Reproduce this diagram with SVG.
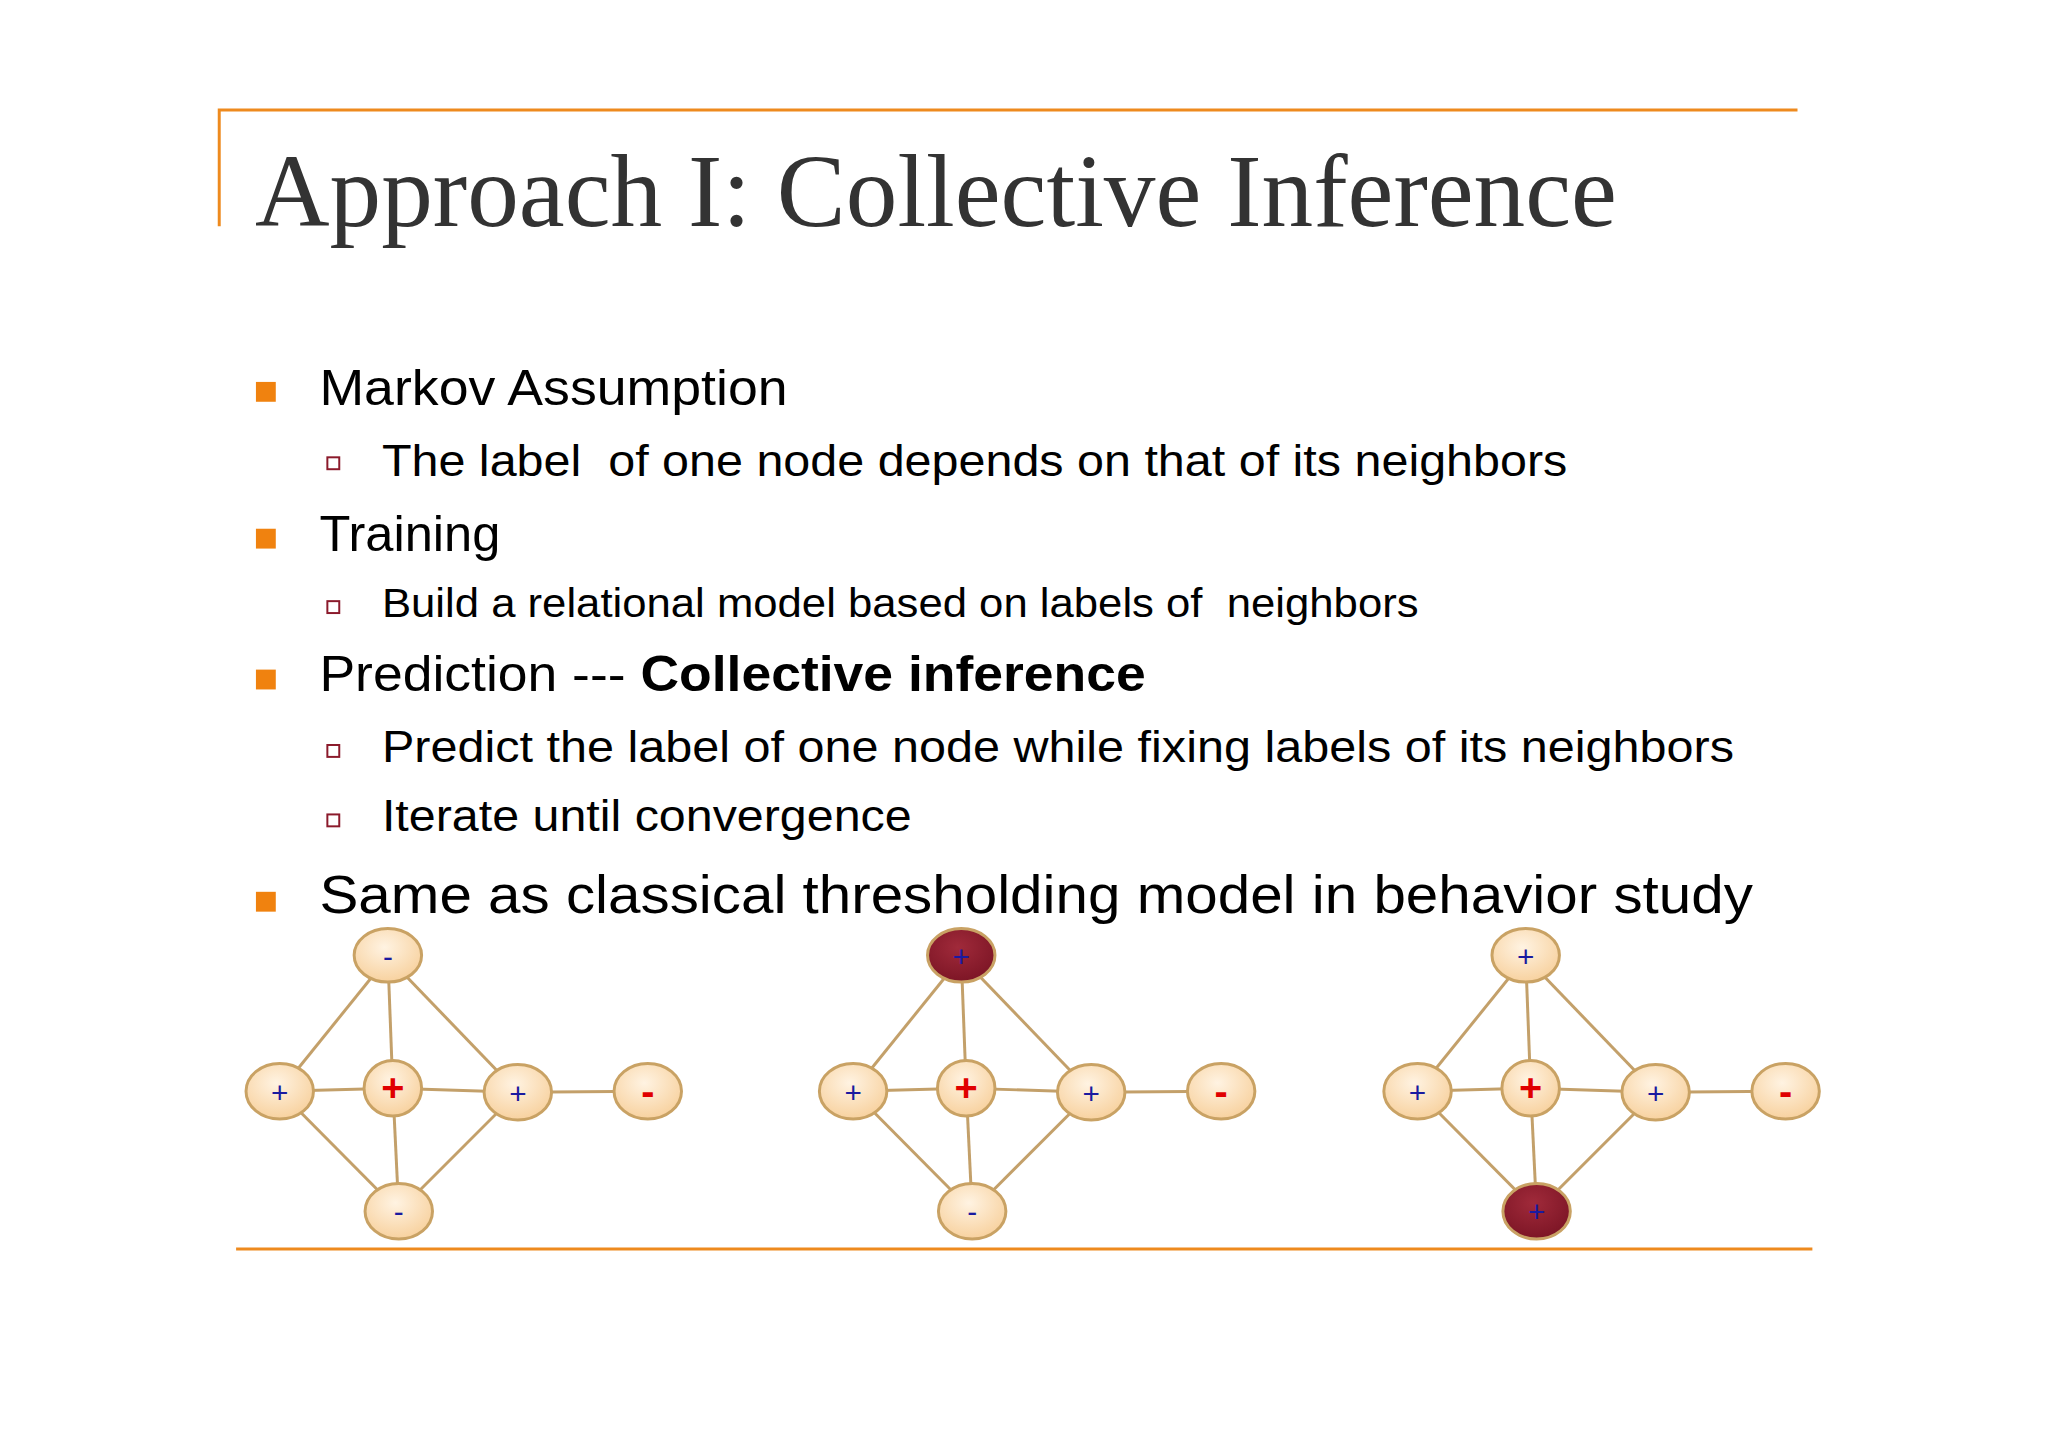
<svg xmlns="http://www.w3.org/2000/svg" width="2048" height="1448" viewBox="0 0 2048 1448">
<defs>
<radialGradient id="g" cx="0.45" cy="0.35" r="0.7"><stop offset="0" stop-color="#fff3e2"/><stop offset="1" stop-color="#f7cf9a"/></radialGradient>
<radialGradient id="gr" cx="0.45" cy="0.35" r="0.7"><stop offset="0" stop-color="#a02a3a"/><stop offset="1" stop-color="#7a1424"/></radialGradient>
<g id="graph">
<g class="edges" stroke="#c3a06a" stroke-width="3" fill="none">
<line x1="391" y1="965" x2="282" y2="1100"/><line x1="391" y1="965" x2="396" y2="1097"/><line x1="391" y1="965" x2="522" y2="1101"/>
<line x1="282" y1="1100" x2="396" y2="1097"/><line x1="396" y1="1097" x2="522" y2="1101"/><line x1="522" y1="1101" x2="653" y2="1100"/>
<line x1="282" y1="1100" x2="402" y2="1221"/><line x1="396" y1="1097" x2="402" y2="1221"/><line x1="522" y1="1101" x2="402" y2="1221"/>
</g>
</g>
</defs>
<style>
.t{font-family:"Liberation Sans",Arial,sans-serif;fill:#000}
.n{fill:url(#g);stroke:#c9a264;stroke-width:3}
.nr{fill:url(#gr);stroke:#c9a264;stroke-width:3}
.b{font-family:"Liberation Sans",Arial,sans-serif;fill:#1a1aa0;font-size:30px;text-anchor:middle}
.r{font-family:"Liberation Sans",Arial,sans-serif;fill:#e00000;font-size:40px;font-weight:bold;text-anchor:middle}
.sq{fill:#f0820f}
.hs{fill:none;stroke:#8b1a2b;stroke-width:2}
</style>
<rect width="2048" height="1448" fill="#fff"/>
<g transform="scale(0.992)">
<g id="frame" stroke="#ee8a1e" stroke-width="3" fill="none">
<polyline points="221,228 221,111 1812,111"/>
<line x1="238" y1="1259" x2="1827" y2="1259"/>
</g>
<text x="257" y="228" font-family="'Liberation Serif','Times New Roman',serif" font-size="104" fill="#333" textLength="1373" lengthAdjust="spacingAndGlyphs">Approach I: Collective Inference</text>
<g id="bullets">
<rect class="sq" x="258" y="385" width="20" height="20"/>
<rect class="sq" x="258" y="533" width="20" height="20"/>
<rect class="sq" x="258" y="675" width="20" height="20"/>
<rect class="sq" x="258" y="899" width="20" height="20"/>
<rect class="hs" x="330" y="461" width="12" height="12"/>
<rect class="hs" x="330" y="606" width="12" height="12"/>
<rect class="hs" x="330" y="751" width="12" height="12"/>
<rect class="hs" x="330" y="821" width="12" height="12"/>
<text class="t" x="322" y="408" font-size="51" textLength="472" lengthAdjust="spacingAndGlyphs">Markov Assumption</text>
<text class="t" x="385" y="480" font-size="45" textLength="1195" lengthAdjust="spacingAndGlyphs" xml:space="preserve">The label  of one node depends on that of its neighbors</text>
<text class="t" x="322" y="555" font-size="51">Training</text>
<text class="t" x="385" y="622" font-size="41" textLength="1045" lengthAdjust="spacingAndGlyphs" xml:space="preserve">Build a relational model based on labels of  neighbors</text>
<text class="t" x="322" y="697" font-size="51" textLength="833" lengthAdjust="spacingAndGlyphs" xml:space="preserve">Prediction --- <tspan font-weight="bold">Collective inference</tspan></text>
<text class="t" x="385" y="768" font-size="45" textLength="1363" lengthAdjust="spacingAndGlyphs">Predict the label of one node while fixing labels of its neighbors</text>
<text class="t" x="385" y="838" font-size="45" textLength="534" lengthAdjust="spacingAndGlyphs">Iterate until convergence</text>
<text class="t" x="322" y="920" font-size="55" textLength="1445" lengthAdjust="spacingAndGlyphs">Same as classical thresholding model in behavior study</text>
</g>
<g id="connectors">
<use href="#graph"/>
<use href="#graph" x="578"/>
<use href="#graph" x="1147"/>
</g>
<g id="graph1">
<ellipse class="n" cx="391" cy="963" rx="34" ry="27"/><text class="b" x="391" y="975">-</text>
<ellipse class="n" cx="282" cy="1100" rx="34" ry="28"/><text class="b" x="282" y="1112">+</text>
<ellipse class="n" cx="396" cy="1097" rx="29" ry="28"/><text class="r" x="396" y="1110">+</text>
<ellipse class="n" cx="522" cy="1101" rx="34" ry="28"/><text class="b" x="522" y="1113">+</text>
<ellipse class="n" cx="653" cy="1100" rx="34" ry="28"/><text class="r" x="653" y="1114">-</text>
<ellipse class="n" cx="402" cy="1221" rx="34" ry="28"/><text class="b" x="402" y="1232">-</text>
</g>
<g id="graph2" transform="translate(578,0)">
<ellipse class="nr" cx="391" cy="963" rx="34" ry="27"/><text class="b" x="391" y="975">+</text>
<ellipse class="n" cx="282" cy="1100" rx="34" ry="28"/><text class="b" x="282" y="1112">+</text>
<ellipse class="n" cx="396" cy="1097" rx="29" ry="28"/><text class="r" x="396" y="1110">+</text>
<ellipse class="n" cx="522" cy="1101" rx="34" ry="28"/><text class="b" x="522" y="1113">+</text>
<ellipse class="n" cx="653" cy="1100" rx="34" ry="28"/><text class="r" x="653" y="1114">-</text>
<ellipse class="n" cx="402" cy="1221" rx="34" ry="28"/><text class="b" x="402" y="1232">-</text>
</g>
<g id="graph3" transform="translate(1147,0)">
<ellipse class="n" cx="391" cy="963" rx="34" ry="27"/><text class="b" x="391" y="975">+</text>
<ellipse class="n" cx="282" cy="1100" rx="34" ry="28"/><text class="b" x="282" y="1112">+</text>
<ellipse class="n" cx="396" cy="1097" rx="29" ry="28"/><text class="r" x="396" y="1110">+</text>
<ellipse class="n" cx="522" cy="1101" rx="34" ry="28"/><text class="b" x="522" y="1113">+</text>
<ellipse class="n" cx="653" cy="1100" rx="34" ry="28"/><text class="r" x="653" y="1114">-</text>
<ellipse class="nr" cx="402" cy="1221" rx="34" ry="28"/><text class="b" x="402" y="1232">+</text>
</g>
</g>
</svg>
